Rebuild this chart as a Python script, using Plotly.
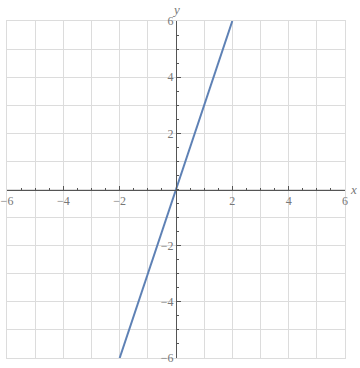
import plotly.graph_objects as go

x_vals = [-2, 2]
y_vals = [-6, 6]
x_range = [-6, 6]
y_range = [-6, 6]
major_ticks = [-6, -4, -2, 2, 4, 6]
major_labels = ["−6", "−4", "−2", "2", "4", "6"]

axis_col = "#555555"
grid_col = "#dcdcdc"
label_col = "#777777"
font_fam = "Liberation Serif"

fig = go.Figure()
fig.add_trace(go.Scatter(x=x_vals, y=y_vals, mode="lines",
                         line=dict(color="#5E81B5", width=2),
                         showlegend=False, cliponaxis=True))
# invisible trace on grid axes
fig.add_trace(go.Scatter(x=x_range, y=y_range, xaxis="x2", yaxis="y2",
                         mode="markers", marker=dict(opacity=0),
                         showlegend=False, hoverinfo="skip"))

fig.update_layout(
    width=360, height=368,
    margin=dict(l=7, r=15, t=21, b=10, autoexpand=False),
    paper_bgcolor="white", plot_bgcolor="white",
    xaxis=dict(range=x_range, anchor="free", position=0.5, side="bottom",
               automargin=False,
               tickvals=major_ticks, ticktext=major_labels,
               ticks="inside", ticklen=4, tickcolor=axis_col, tickwidth=1,
               showline=True, linecolor=axis_col, linewidth=1,
               showgrid=False, zeroline=False,
               minor=dict(dtick=0.5, tick0=0, ticks="inside", ticklen=2, tickcolor=axis_col),
               tickfont=dict(family=font_fam, size=12, color=label_col)),
    yaxis=dict(range=y_range, anchor="free", position=0.5, side="left",
               automargin=False,
               tickvals=major_ticks, ticktext=major_labels,
               ticks="inside", ticklen=4, tickcolor=axis_col, tickwidth=1,
               showline=True, linecolor=axis_col, linewidth=1,
               showgrid=False, zeroline=False,
               minor=dict(dtick=0.5, tick0=0, ticks="inside", ticklen=2, tickcolor=axis_col),
               tickfont=dict(family=font_fam, size=12, color=label_col)),
    xaxis2=dict(range=x_range, overlaying="x", dtick=1, tick0=0, showgrid=True,
                automargin=False,
                gridcolor=grid_col, gridwidth=1, showticklabels=False, ticks="",
                zeroline=False, showline=True, linecolor=grid_col, mirror=True,
                anchor="y2", layer="below traces"),
    yaxis2=dict(range=y_range, overlaying="y", dtick=1, tick0=0, showgrid=True,
                automargin=False,
                gridcolor=grid_col, gridwidth=1, showticklabels=False, ticks="",
                zeroline=False, showline=True, linecolor=grid_col, mirror=True,
                anchor="x2", layer="below traces"),
    annotations=[
        dict(text="<i>x</i>", x=1, y=0.5, xref="paper", yref="paper",
             xanchor="left", yanchor="middle", xshift=3, showarrow=False,
             font=dict(family=font_fam, size=13, color=label_col)),
        dict(text="<i>y</i>", x=0.5, y=1, xref="paper", yref="paper",
             xanchor="center", yanchor="bottom", yshift=2, showarrow=False,
             font=dict(family=font_fam, size=13, color=label_col)),
    ],
)

fig.write_html("out.html")
